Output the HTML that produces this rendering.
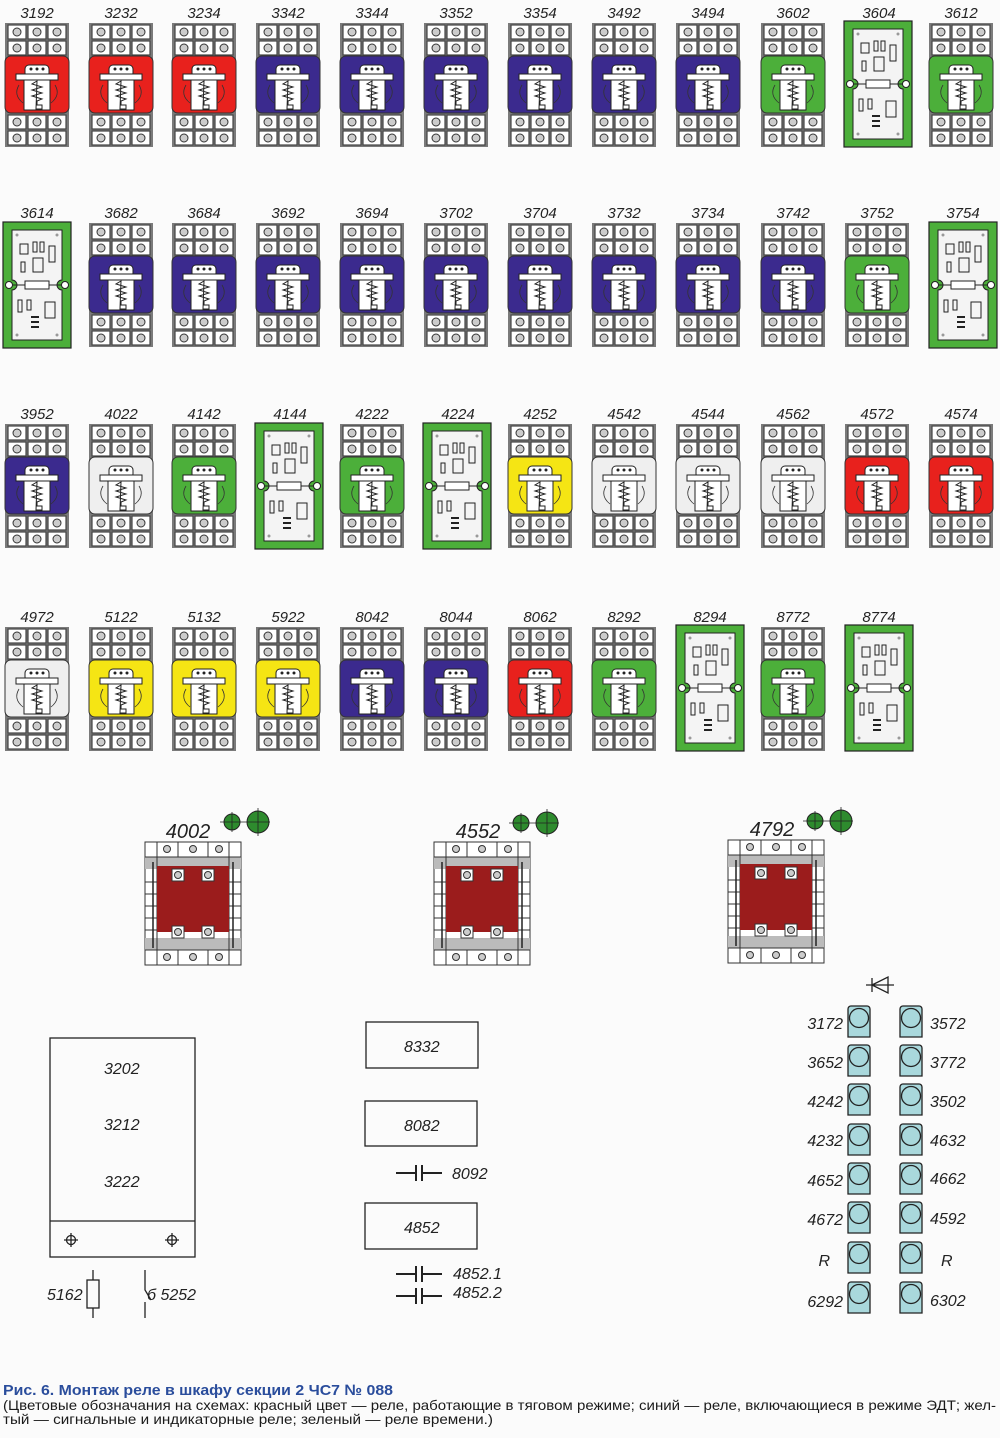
<!DOCTYPE html>
<html><head><meta charset="utf-8"><style>
body{margin:0;background:#fbfbfb;}
svg{display:block}
.l{font-family:"Liberation Sans",sans-serif;font-style:italic;font-size:15px;fill:#222;text-anchor:middle}
.t{font-family:"Liberation Sans",sans-serif;font-style:italic;font-size:15px;fill:#222}
.c1{font-family:"Liberation Sans","Noto Sans CJK SC",sans-serif;font-weight:bold;font-size:15px;fill:#2a4d9c}
.c2{font-family:"Liberation Sans","Noto Sans CJK SC",sans-serif;font-size:14px;fill:#1a1a1a}
</style></head><body>
<svg width="1000" height="1438" viewBox="0 0 1000 1438" xmlns="http://www.w3.org/2000/svg">
<defs>
<g id="sk"><rect x="1" y="1" width="18" height="14" fill="#fff" stroke="#444" stroke-width="1.2"/><circle cx="10" cy="8" r="4" fill="#ccc" stroke="#333"/></g>
<g id="srow"><use href="#sk" x="2"/><use href="#sk" x="22"/><use href="#sk" x="42"/></g>
<symbol id="rl" overflow="visible">
<rect x="0" y="0" width="64" height="124" fill="#7a7a7a"/>
<use href="#srow" y="1"/><use href="#srow" y="17"/>
<use href="#srow" y="91"/><use href="#srow" y="107"/>
<rect x="0" y="33" width="64" height="57" rx="6" fill="currentColor" stroke="#333"/>
<rect x="20" y="42" width="24" height="12" rx="4" fill="#fff" stroke="#222"/>
<rect x="11" y="51" width="42" height="6" fill="#fff" stroke="#222"/>
<rect x="19" y="57" width="26" height="30" fill="#fff" stroke="#222"/>
<path d="M14 62 Q8 72 18 80 M50 62 Q56 72 46 80" fill="none" stroke="#333" stroke-width=".8"/>
<path d="M32 58 l-5 3 l10 3 l-10 3 l10 3 l-10 3 l10 3 l-5 2 v4 h5 v4 h-6z" fill="none" stroke="#222" stroke-width="1"/>
<circle cx="26" cy="46" r="1.5" fill="#222"/><circle cx="32" cy="46" r="1.5" fill="#222"/><circle cx="38" cy="46" r="1.5" fill="#222"/>
</symbol>
<symbol id="pcb" overflow="visible">
<rect x="0" y="0" width="68" height="126" fill="#4caf3a" stroke="#222" stroke-width="1.2"/>
<path d="M9 8 h50 v50 a5 5 0 0 0 0 10 v50 h-50 v-50 a5 5 0 0 0 0 -10z" fill="#f4f4f4" stroke="#222"/>
<circle cx="6" cy="63" r="3.5" fill="#fff" stroke="#222"/><circle cx="62" cy="63" r="3.5" fill="#fff" stroke="#222"/>
<rect x="22" y="59" width="24" height="8" fill="#fff" stroke="#222"/><path d="M10 63h12M46 63h12" stroke="#222"/>
<rect x="17" y="22" width="8" height="10" fill="none" stroke="#222"/>
<rect x="30" y="20" width="4" height="10" fill="none" stroke="#222"/><rect x="37" y="20" width="4" height="10" fill="none" stroke="#222"/>
<rect x="46" y="24" width="6" height="16" fill="none" stroke="#222"/>
<rect x="30" y="36" width="10" height="14" fill="none" stroke="#222"/><rect x="18" y="40" width="4" height="10" fill="none" stroke="#222"/>
<rect x="15" y="78" width="4" height="12" fill="none" stroke="#222"/><rect x="24" y="78" width="4" height="10" fill="none" stroke="#222"/>
<rect x="42" y="80" width="10" height="16" fill="none" stroke="#222"/>
<path d="M28 95h8M28 100h8M28 105h8" stroke="#222" stroke-width="2"/>
<circle cx="14" cy="13" r="1.5" fill="#999"/><circle cx="54" cy="13" r="1.5" fill="#999"/><circle cx="14" cy="113" r="1.5" fill="#999"/><circle cx="54" cy="113" r="1.5" fill="#999"/>
</symbol>
<symbol id="ct" overflow="visible">
<rect x="0" y="0" width="96" height="123" fill="#fff" stroke="#333"/>
<rect x="0" y="15" width="96" height="12" fill="#bbb"/><rect x="0" y="96" width="96" height="12" fill="#bbb"/>
<path d="M0 15h96M0 108h96M12 0v123M84 0v123M33 0v15M63 0v15M33 108v15M63 108v15M0 40h12M0 52h12M0 64h12M0 76h12M0 88h12M84 40h12M84 52h12M84 64h12M84 76h12M84 88h12" stroke="#333" fill="none"/>
<circle cx="22" cy="7" r="3.5" fill="#ccc" stroke="#333"/><circle cx="48" cy="7" r="3.5" fill="#ccc" stroke="#333"/><circle cx="74" cy="7" r="3.5" fill="#ccc" stroke="#333"/>
<circle cx="22" cy="115" r="3.5" fill="#ccc" stroke="#333"/><circle cx="48" cy="115" r="3.5" fill="#ccc" stroke="#333"/><circle cx="74" cy="115" r="3.5" fill="#ccc" stroke="#333"/>
<rect x="12" y="24" width="72" height="66" fill="#9b1c1c"/>
<path d="M8 20v86M88 20v86" stroke="#222" stroke-width="1.5"/>
<rect x="27" y="27" width="12" height="12" fill="#fff" stroke="#333"/><circle cx="33" cy="33" r="3.5" fill="#ccc" stroke="#333"/>
<rect x="57" y="27" width="12" height="12" fill="#fff" stroke="#333"/><circle cx="63" cy="33" r="3.5" fill="#ccc" stroke="#333"/>
<rect x="27" y="84" width="12" height="12" fill="#fff" stroke="#333"/><circle cx="33" cy="90" r="3.5" fill="#ccc" stroke="#333"/>
<rect x="57" y="84" width="12" height="12" fill="#fff" stroke="#333"/><circle cx="63" cy="90" r="3.5" fill="#ccc" stroke="#333"/>
</symbol>
<symbol id="gc" overflow="visible">
<circle cx="0" cy="0" r="8" fill="#2e8b2e" stroke="#222"/><circle cx="26" cy="0" r="11" fill="#2e8b2e" stroke="#222"/>
<path d="M-12 0h50M0 -10v20M26 -14v28" stroke="#222" stroke-width=".8"/>
</symbol>
<symbol id="led" overflow="visible">
<path d="M0 3a3 3 0 0 1 3-3h16a3 3 0 0 1 3 3v28h-22z" fill="#a9d8dc" stroke="#222" stroke-width="1.3"/>
<circle cx="11" cy="12" r="9.5" fill="none" stroke="#222" stroke-width="1.3"/>
</symbol>
<symbol id="cap" overflow="visible"><path d="M0 0h20M20 -8v16M26 -8v16M26 0h20" stroke="#222" stroke-width="2" fill="none"/></symbol>
</defs>

<g class="l">
<text x="37" y="18">3192</text><text x="121" y="18">3232</text><text x="204" y="18">3234</text><text x="288" y="18">3342</text><text x="372" y="18">3344</text><text x="456" y="18">3352</text><text x="540" y="18">3354</text><text x="624" y="18">3492</text><text x="708" y="18">3494</text><text x="793" y="18">3602</text><text x="879" y="18">3604</text><text x="961" y="18">3612</text>
<text x="37" y="218">3614</text><text x="121" y="218">3682</text><text x="204" y="218">3684</text><text x="288" y="218">3692</text><text x="372" y="218">3694</text><text x="456" y="218">3702</text><text x="540" y="218">3704</text><text x="624" y="218">3732</text><text x="708" y="218">3734</text><text x="793" y="218">3742</text><text x="877" y="218">3752</text><text x="963" y="218">3754</text>
<text x="37" y="419">3952</text><text x="121" y="419">4022</text><text x="204" y="419">4142</text><text x="290" y="419">4144</text><text x="372" y="419">4222</text><text x="458" y="419">4224</text><text x="540" y="419">4252</text><text x="624" y="419">4542</text><text x="708" y="419">4544</text><text x="793" y="419">4562</text><text x="877" y="419">4572</text><text x="961" y="419">4574</text>
<text x="37" y="622">4972</text><text x="121" y="622">5122</text><text x="204" y="622">5132</text><text x="288" y="622">5922</text><text x="372" y="622">8042</text><text x="456" y="622">8044</text><text x="540" y="622">8062</text><text x="624" y="622">8292</text><text x="710" y="622">8294</text><text x="793" y="622">8772</text><text x="879" y="622">8774</text>
</g>
<g>
<use href="#rl" x="5" y="23" color="#e8211d"/><use href="#rl" x="89" y="23" color="#e8211d"/><use href="#rl" x="172" y="23" color="#e8211d"/>
<use href="#rl" x="256" y="23" color="#3b2a8e"/><use href="#rl" x="340" y="23" color="#3b2a8e"/><use href="#rl" x="424" y="23" color="#3b2a8e"/><use href="#rl" x="508" y="23" color="#3b2a8e"/><use href="#rl" x="592" y="23" color="#3b2a8e"/><use href="#rl" x="676" y="23" color="#3b2a8e"/>
<use href="#rl" x="761" y="23" color="#4caf3a"/><use href="#pcb" x="844" y="21"/><use href="#rl" x="929" y="23" color="#4caf3a"/>

<use href="#pcb" x="3" y="222"/><use href="#rl" x="89" y="223" color="#3b2a8e"/><use href="#rl" x="172" y="223" color="#3b2a8e"/><use href="#rl" x="256" y="223" color="#3b2a8e"/><use href="#rl" x="340" y="223" color="#3b2a8e"/><use href="#rl" x="424" y="223" color="#3b2a8e"/><use href="#rl" x="508" y="223" color="#3b2a8e"/><use href="#rl" x="592" y="223" color="#3b2a8e"/><use href="#rl" x="676" y="223" color="#3b2a8e"/><use href="#rl" x="761" y="223" color="#3b2a8e"/><use href="#rl" x="845" y="223" color="#4caf3a"/><use href="#pcb" x="929" y="222"/>

<use href="#rl" x="5" y="424" color="#3b2a8e"/><use href="#rl" x="89" y="424" color="#efefef"/><use href="#rl" x="172" y="424" color="#4caf3a"/><use href="#pcb" x="255" y="423"/><use href="#rl" x="340" y="424" color="#4caf3a"/><use href="#pcb" x="423" y="423"/><use href="#rl" x="508" y="424" color="#f5e514"/><use href="#rl" x="592" y="424" color="#efefef"/><use href="#rl" x="676" y="424" color="#efefef"/><use href="#rl" x="761" y="424" color="#efefef"/><use href="#rl" x="845" y="424" color="#e8211d"/><use href="#rl" x="929" y="424" color="#e8211d"/>

<use href="#rl" x="5" y="627" color="#efefef"/><use href="#rl" x="89" y="627" color="#f5e514"/><use href="#rl" x="172" y="627" color="#f5e514"/><use href="#rl" x="256" y="627" color="#f5e514"/><use href="#rl" x="340" y="627" color="#3b2a8e"/><use href="#rl" x="424" y="627" color="#3b2a8e"/><use href="#rl" x="508" y="627" color="#e8211d"/><use href="#rl" x="592" y="627" color="#4caf3a"/><use href="#pcb" x="676" y="625"/><use href="#rl" x="761" y="627" color="#4caf3a"/><use href="#pcb" x="845" y="625"/>
</g>

<text class="l" x="188" y="838" style="font-size:20px">4002</text><use href="#gc" x="232" y="822"/><use href="#ct" x="145" y="842"/>
<text class="l" x="478" y="838" style="font-size:20px">4552</text><use href="#gc" x="521" y="823"/><use href="#ct" x="434" y="842"/>
<text class="l" x="772" y="836" style="font-size:20px">4792</text><use href="#gc" x="815" y="821"/><use href="#ct" x="728" y="840"/>

<g stroke="#222" stroke-width="1.3" fill="none">
<rect x="50" y="1038" width="145" height="219"/><path d="M50 1221h145"/>
<circle cx="71" cy="1240" r="4.5"/><path d="M64 1240h14M71 1233v14"/>
<circle cx="172" cy="1240" r="4.5"/><path d="M165 1240h14M172 1233v14"/>
<path d="M93 1270v48"/><rect x="87" y="1280" width="12" height="28" fill="#fbfbfb"/>
<path d="M145 1270v20l6 10M145 1302v16"/>
</g>
<text class="t" x="104" y="1074" style="font-size:16px">3202</text><text class="t" x="104" y="1130" style="font-size:16px">3212</text><text class="t" x="104" y="1187" style="font-size:16px">3222</text>
<text class="t" x="47" y="1300" style="font-size:16px">5162</text><text class="t" x="147" y="1300" style="font-size:16px">&#1073; 5252</text>

<g stroke="#222" stroke-width="1.3" fill="none">
<rect x="366" y="1022" width="112" height="46"/><rect x="365" y="1101" width="112" height="45"/><rect x="365" y="1203" width="112" height="46"/>
</g>
<text class="t" x="404" y="1052" style="font-size:16px">8332</text><text class="t" x="404" y="1131" style="font-size:16px">8082</text><text class="t" x="404" y="1233" style="font-size:16px">4852</text>
<use href="#cap" x="396" y="1173"/><text class="t" x="452" y="1179" style="font-size:16px">8092</text>
<use href="#cap" x="396" y="1274"/><text class="t" x="453" y="1279" style="font-size:16px">4852.1</text>
<use href="#cap" x="396" y="1296"/><text class="t" x="453" y="1298" style="font-size:16px">4852.2</text>

<path d="M866 985h28M872 978v14M872 985l16-8v16z" stroke="#222" stroke-width="1.3" fill="none"/>
<g>
<use href="#led" x="848" y="1006"/><use href="#led" x="900" y="1006"/>
<use href="#led" x="848" y="1045"/><use href="#led" x="900" y="1045"/>
<use href="#led" x="848" y="1084"/><use href="#led" x="900" y="1084"/>
<use href="#led" x="848" y="1124"/><use href="#led" x="900" y="1124"/>
<use href="#led" x="848" y="1163"/><use href="#led" x="900" y="1163"/>
<use href="#led" x="848" y="1202"/><use href="#led" x="900" y="1202"/>
<use href="#led" x="848" y="1242"/><use href="#led" x="900" y="1242"/>
<use href="#led" x="848" y="1282"/><use href="#led" x="900" y="1282"/>
</g>
<g class="t" style="text-anchor:end;font-size:16px">
<text x="843" y="1029">3172</text><text x="843" y="1068">3652</text><text x="843" y="1107">4242</text><text x="843" y="1146">4232</text><text x="843" y="1186">4652</text><text x="843" y="1225">4672</text><text x="830" y="1266">R</text><text x="843" y="1307">6292</text>
</g>
<g class="t" style="font-size:16px">
<text x="930" y="1029">3572</text><text x="930" y="1068">3772</text><text x="930" y="1107">3502</text><text x="930" y="1146">4632</text><text x="930" y="1184">4662</text><text x="930" y="1224">4592</text><text x="941" y="1266">R</text><text x="930" y="1306">6302</text>
</g>

<text class="c1" x="3" y="1395" textLength="390" lengthAdjust="spacingAndGlyphs">Рис. 6. Монтаж реле в шкафу секции 2 ЧС7 № 088</text>
<text class="c2" x="3" y="1410" textLength="993" lengthAdjust="spacingAndGlyphs">(Цветовые обозначания на схемах: красный цвет — реле, работающие в тяговом режиме; синий — реле, включающиеся в режиме ЭДТ; жел-</text>
<text class="c2" x="3" y="1424" textLength="490" lengthAdjust="spacingAndGlyphs">тый — сигнальные и индикаторные реле; зеленый — реле времени.)</text>
</svg>
</body></html>
